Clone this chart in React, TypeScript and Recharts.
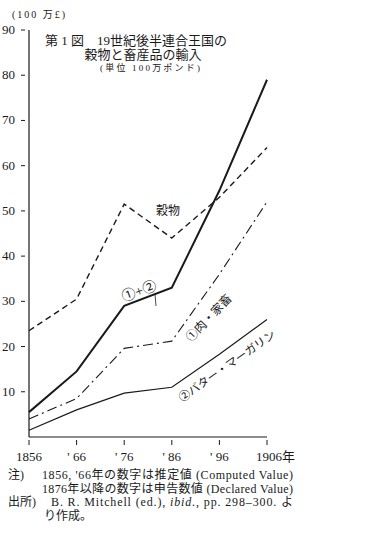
import { CartesianGrid, Line, LineChart, XAxis, YAxis } from 'recharts';

const years = [1856, 1866, 1876, 1886, 1896, 1906];
const totalLivestock = [5.5, 14.5, 29, 33, 54.5, 79];
const grain = [23.5, 30.5, 51.5, 44, 53, 64];
const meat = [4, 8.5, 19.6, 21.2, 36, 52];
const butter = [1.5, 6, 9.7, 11, 18.3, 26];
const yTicks = [10, 20, 30, 40, 50, 60, 70, 80, 90];

const rows = years.map((year, i) => ({
  year,
  total: totalLivestock[i],
  grain: grain[i],
  meat: meat[i],
  butter: butter[i],
}));

const FONT = '"Liberation Serif", "DejaVu Serif", "Noto Sans CJK JP", serif';
const INK = '#1a1a1a';

function YTick({ x, y, payload }: any) {
  return (
    <g>
      <line x1={x} x2={x + 4} y1={y} y2={y} stroke={INK} strokeWidth={1} />
      <text x={x - 6} y={y} dy={4} textAnchor="end" fontSize={13} fill={INK} fontFamily={FONT}>
        {payload.value}
      </text>
    </g>
  );
}

function XTick({ x, y, payload }: any) {
  const v = payload.value as number;
  const label = v === 1856 ? '1856' : v === 1906 ? '1906年' : `' ${String(v).slice(2)}`;
  return (
    <g>
      <line x1={x} x2={x} y1={y} y2={y - 5} stroke={INK} strokeWidth={1} />
      <text
        x={v === 1906 ? x - 11 : x}
        y={y + 16}
        textAnchor={v === 1906 ? 'start' : 'middle'}
        fontSize={13}
        fill={INK}
        fontFamily={FONT}
      >
        {label}
      </text>
    </g>
  );
}

export default function App() {
  return (
    <div style={{ position: 'fixed', left: 0, top: 0, width: 365, height: 539, background: '#fff' }}>
      <LineChart
        width={365}
        height={539}
        data={rows}
        margin={{ top: 30, right: 98, left: 4, bottom: 82 }}
      >
        <CartesianGrid horizontal={false} vertical={false} />
        <XAxis
          dataKey="year"
          type="number"
          domain={[1856, 1906]}
          ticks={years}
          tickLine={false}
          axisLine={{ stroke: INK, strokeWidth: 1.2 }}
          tick={<XTick />}
          height={20}
          interval={0}
        />
        <YAxis
          type="number"
          domain={[0, 90]}
          ticks={yTicks}
          tickLine={false}
          axisLine={{ stroke: INK, strokeWidth: 1.2 }}
          tick={<YTick />}
          width={25}
          interval={0}
        />
        <Line dataKey="grain" type="linear" stroke={INK} strokeWidth={1.4} strokeDasharray="6 4" dot={false} isAnimationActive={false} />
        <Line dataKey="meat" type="linear" stroke={INK} strokeWidth={1.1} strokeDasharray="10 4 2 4" dot={false} isAnimationActive={false} />
        <Line dataKey="butter" type="linear" stroke={INK} strokeWidth={1.2} dot={false} isAnimationActive={false} />
        <Line dataKey="total" type="linear" stroke={INK} strokeWidth={2} dot={false} isAnimationActive={false} />
      </LineChart>
      <svg
        width={365}
        height={539}
        style={{ position: 'absolute', left: 0, top: 0, pointerEvents: 'none' }}
        fontFamily={FONT}
        fill={INK}
      >
        <text x={12} y={18} fontSize={10} textLength={53} lengthAdjust="spacing">(100 万£)</text>
        <text x={45} y={45} fontSize={13}>第 1 図　19世紀後半連合王国の</text>
        <text x={143} y={59} fontSize={13} textAnchor="middle">穀物と畜産品の輸入</text>
        <text x={100} y={71} fontSize={9} textLength={100} lengthAdjust="spacing">(単位 100万ポンド)</text>

        <text x={168} y={215} fontSize={12} textAnchor="middle">穀物</text>
        <text x={139} y={296} fontSize={14} textAnchor="middle" transform="rotate(-20 139 291)">①+②</text>
        <line x1={155} y1={294} x2={156} y2={306} stroke={INK} strokeWidth={0.8} />
        <text x={209} y={322} fontSize={12} textAnchor="middle" transform="rotate(-46 209 318)">①肉・家畜</text>
        <text x={227} y={370} fontSize={11.5} textAnchor="middle" transform="rotate(-35 227 366)">②バター・マーガリン</text>

        <text x={8} y={479} fontSize={12}>注)</text>
        <text x={42} y={479} fontSize={12} textLength={251} lengthAdjust="spacing">1856, '66年の数字は推定値 (Computed Value)</text>
        <text x={42} y={493} fontSize={12} textLength={251} lengthAdjust="spacing">1876年以降の数字は申告数値 (Declared Value)</text>
        <text x={8} y={506} fontSize={12}>出所)</text>
        <text x={51} y={506} fontSize={12} textLength={242} lengthAdjust="spacing">
          B. R. Mitchell (ed.), <tspan fontStyle="italic">ibid.</tspan>, pp. 298–300. よ
        </text>
        <text x={44} y={520} fontSize={12}>り作成。</text>
      </svg>
    </div>
  );
}
